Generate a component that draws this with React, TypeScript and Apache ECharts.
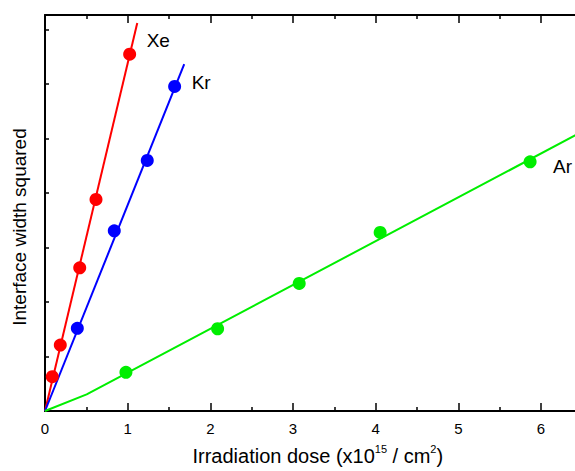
import React, { useEffect, useRef } from "react";
import * as echarts from "echarts";

// Measured data (x: dose in 1e15/cm^2, y: interface width squared, arbitrary units)
const xeX = [0.088, 0.185, 0.42, 0.617, 1.024];
const xeY = [0.629, 1.211, 2.629, 3.884, 6.55];
const krX = [0.391, 0.838, 1.237, 1.568];
const krY = [1.517, 3.308, 4.6, 5.958];
const arX = [0.979, 2.088, 3.075, 4.054, 5.868];
const arY = [0.71, 1.51, 2.343, 3.279, 4.574];

// Fit lines
const xeFitX = [0, 1.116];
const xeFitY = [0, 7.125];
const krFitX = [0, 1.684];
const krFitY = [0, 6.367];
const arFitX = [0, 0.504, 6.6];
const arFitY = [0, 0.306, 5.21];

const xTicks = [0, 1, 2, 3, 4, 5, 6];
const X_MAX = 6.6;
const Y_MAX = 7.27;

const FONT = "'Liberation Sans', Arial, Helvetica, sans-serif";
const RED = "#ff0000";
const BLUE = "#0000ff";
const GREEN = "#00ee00";

const pairs = (xs: number[], ys: number[]) => xs.map((x, i) => [x, ys[i]]);

export default function App() {
  const ref = useRef<HTMLDivElement>(null);
  useEffect(() => {
    if (!ref.current) return;
    const chart = echarts.init(ref.current, undefined, { renderer: "svg" });
    const axisLine = { show: true, lineStyle: { color: "#000", width: 2 } };
    const lastLabel = (name: string, offset: number[]) => ({
      show: true,
      position: "right",
      distance: 5,
      offset,
      formatter: name,
      color: "#000",
      fontSize: 19,
      fontFamily: FONT,
    });
    const scatter = (xs: number[], ys: number[], color: string, name: string, offset: number[]) => ({
      type: "scatter",
      name,
      symbol: "circle",
      symbolSize: 13,
      itemStyle: { color, opacity: 1 },
      data: pairs(xs, ys).map((p, i, arr) =>
        i === arr.length - 1 ? { value: p, label: lastLabel(name, offset) } : { value: p }
      ),
      z: 3,
    });
    const fit = (xs: number[], ys: number[], color: string) => ({
      type: "line",
      symbol: "none",
      lineStyle: { color, width: 2 },
      data: pairs(xs, ys),
      z: 2,
    });
    chart.setOption({
      animation: false,
      grid: { left: 45, top: 15, width: 82.67 * X_MAX, height: 396, containLabel: false },
      xAxis: [
        {
          type: "value",
          min: 0,
          max: X_MAX,
          interval: 1,
          position: "bottom",
          axisLine,
          axisTick: { show: true, inside: true, length: 8, lineStyle: { color: "#000", width: 1.5 } },
          minorTick: { show: true, splitNumber: 2, length: 4, lineStyle: { color: "#000", width: 1.5 } },
          splitLine: { show: false },
          minorSplitLine: { show: false },
          axisLabel: {
            color: "#000",
            fontSize: 15,
            fontFamily: FONT,
            margin: 10,
            formatter: (v: number) => (xTicks.includes(v) ? String(v) : ""),
          },
          name: "{a|Irradiation dose (x10}{s|15}{a| / cm}{s|2}{a|)}",
          nameLocation: "middle",
          nameGap: 32,
          nameTextStyle: {
            color: "#000",
            fontFamily: FONT,
            fontSize: 20,
            rich: {
              a: { fontSize: 20, fontFamily: FONT, color: "#000", lineHeight: 23, verticalAlign: "bottom" },
              s: { fontSize: 11, fontFamily: FONT, color: "#000", lineHeight: 23, verticalAlign: "top" },
            },
          },
        },
        {
          type: "value",
          min: 0,
          max: X_MAX,
          interval: 1,
          position: "top",
          axisLine,
          axisTick: { show: true, inside: true, length: 8, lineStyle: { color: "#000", width: 1.5 } },
          minorTick: { show: true, splitNumber: 2, length: 4, lineStyle: { color: "#000", width: 1.5 } },
          splitLine: { show: false },
          axisLabel: { show: false },
        },
      ],
      yAxis: {
        type: "value",
        min: 0,
        max: Y_MAX,
        interval: 1,
        axisLine,
        axisTick: { show: true, inside: true, length: 4, lineStyle: { color: "#000", width: 1.5 } },
        splitLine: { show: false },
        axisLabel: { show: false },
      },
      graphic: [
        {
          type: "text",
          x: 19.5,
          y: 227,
          rotation: Math.PI / 2,
          style: {
            text: "Interface width squared",
            font: `19px ${FONT}`,
            fill: "#000",
            textAlign: "center",
            textVerticalAlign: "middle",
          },
        },
      ],
      series: [
        fit(xeFitX, xeFitY, RED),
        fit(krFitX, krFitY, BLUE),
        fit(arFitX, arFitY, GREEN),
        scatter(xeX, xeY, RED, "Xe", [5.5, -14]),
        scatter(krX, krY, BLUE, "Kr", [5.5, -4]),
        scatter(arX, arY, GREEN, "Ar", [11.5, 5]),
      ],
    });
    return () => chart.dispose();
  }, []);
  return (
    <div
      ref={ref}
      style={{ position: "fixed", left: 0, top: 0, width: 620, height: 471, background: "#fff" }}
    />
  );
}
